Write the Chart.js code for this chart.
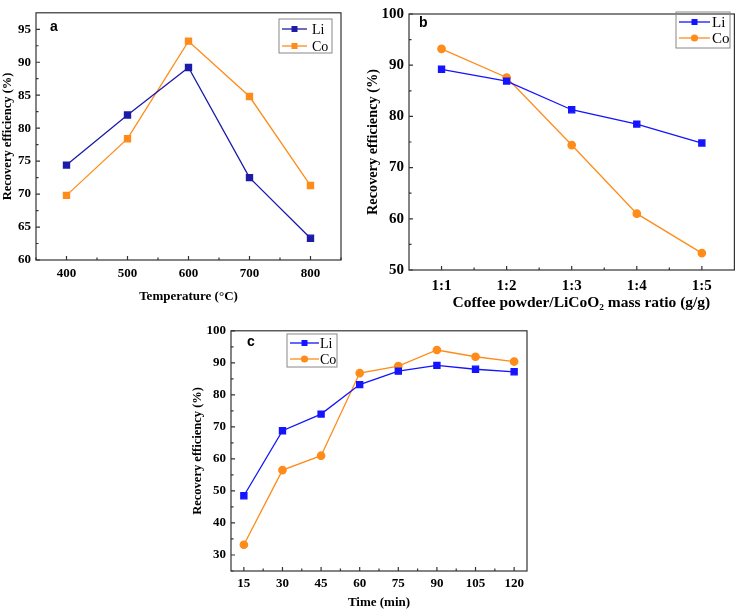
<!DOCTYPE html>
<html>
<head>
<meta charset="utf-8">
<script src="https://cdn.jsdelivr.net/npm/chart.js@4.4.1/dist/chart.umd.min.js"></script>
<style>
  body { margin: 0; background: #fff; }
  #wrap { position: relative; width: 740px; height: 611px; }
  .panel { position: absolute; }
</style>
</head>
<body>
<div id="wrap">
  <div class="panel" style="left:0;top:0;width:360px;height:311px"><canvas id="chartA"></canvas></div>
  <div class="panel" style="left:360px;top:0;width:380px;height:314px"><canvas id="chartB"></canvas></div>
  <div class="panel" style="left:180px;top:318px;width:360px;height:293px"><canvas id="chartC"></canvas></div>
</div>
<script>
// (a) temperature
var tempLabels = [400, 500, 600, 700, 800];
var tempLi = [74.4, 82.0, 89.2, 72.5, 63.3];
var tempCo = [69.8, 78.4, 93.2, 84.8, 71.3];
var tempTicksY = [60, 65, 70, 75, 80, 85, 90, 95];

// (b) coffee powder / LiCoO2 ratio
var ratioLabels = ['1:1', '1:2', '1:3', '1:4', '1:5'];
var ratioLi = [89.2, 86.9, 81.3, 78.5, 74.8];
var ratioCo = [93.2, 87.6, 74.4, 61.0, 53.3];
var ratioTicksY = [50, 60, 70, 80, 90, 100];

// (c) time
var timeLabels = [15, 30, 45, 60, 75, 90, 105, 120];
var timeLi = [48.5, 68.8, 74.0, 83.2, 87.4, 89.2, 88.0, 87.2];
var timeCo = [33.2, 56.5, 61.0, 86.8, 89.0, 94.0, 91.9, 90.4];
var timeTicksY = [30, 40, 50, 60, 70, 80, 90, 100];

var SERIF = '"Liberation Serif", "Times New Roman", serif';
var ORANGE = '#ff8c1a';

function pts(xs, ys) {
	return ys.map(function(v, i){ return {x: xs[i], y: v}; });
}

function mids(t) {
	var out = [];
	for (var i = 0; i < t.length - 1; i++) out.push((t[i] + t[i+1]) / 2);
	return out;
}

// box, inward ticks, legend and panel letter
var frame = {
	id: 'frame',
	afterDraw: function(chart, args, o) {
		var ctx = chart.ctx, a = chart.chartArea;
		var x = chart.scales.x, y = chart.scales.y;
		ctx.save();
		ctx.strokeStyle = '#333';
		ctx.lineWidth = 1.2;
		ctx.strokeRect(a.left, a.top, a.right - a.left, a.bottom - a.top);
		ctx.beginPath();
		x.ticks.forEach(function(t){
			var p = x.getPixelForValue(t.value);
			ctx.moveTo(p, a.bottom); ctx.lineTo(p, a.bottom - 4);
		});
		o.xMinor.forEach(function(v){
			var p = x.getPixelForValue(v);
			ctx.moveTo(p, a.bottom); ctx.lineTo(p, a.bottom - 2.5);
		});
		y.ticks.forEach(function(t){
			var p = y.getPixelForValue(t.value);
			ctx.moveTo(a.left, p); ctx.lineTo(a.left + 4, p);
		});
		o.yMinor.forEach(function(v){
			var p = y.getPixelForValue(v);
			if (p > a.top) { ctx.moveTo(a.left, p); ctx.lineTo(a.left + 2.5, p); }
		});
		ctx.stroke();

		// panel letter
		ctx.fillStyle = '#000';
		ctx.font = 'bold 14px "Liberation Sans", Arial, sans-serif';
		ctx.textBaseline = 'middle';
		ctx.textAlign = 'left';
		ctx.fillText(o.letter, o.letterX, o.letterY);

		// legend
		var L = o.legend;
		ctx.strokeStyle = '#888';
		ctx.lineWidth = 1;
		ctx.strokeRect(L.x, L.y, L.w, L.h);
		ctx.font = L.size + 'px ' + SERIF;
		chart.data.datasets.forEach(function(ds, i){
			var ry = L.y + L.row0 + i * L.gap;
			ctx.strokeStyle = ds.borderColor;
			ctx.lineWidth = 1.3;
			ctx.beginPath();
			ctx.moveTo(L.x + 3, ry); ctx.lineTo(L.x + 3 + L.line, ry);
			ctx.stroke();
			ctx.fillStyle = ds.borderColor;
			var cx = L.x + 3 + L.line / 2;
			if (ds.pointStyle === 'circle') {
				ctx.beginPath(); ctx.arc(cx, ry, 3.6, 0, Math.PI * 2); ctx.fill();
			} else {
				ctx.fillRect(cx - 3, ry - 3, 6, 6);
			}
			ctx.fillStyle = '#000';
			ctx.fillText(ds.label, L.x + L.tx, ry + 1);
		});
		ctx.restore();
	}
};

function makeChart(id, p) {
	var ds = [
		{ label: 'Li', data: pts(p.xs, p.li), borderColor: p.liColor, backgroundColor: p.liColor,
		  pointStyle: 'rect', pointRadius: 4.3, borderWidth: 1.3, tension: 0 },
		{ label: 'Co', data: pts(p.xs, p.co), borderColor: ORANGE, backgroundColor: ORANGE,
		  pointStyle: p.coStyle, pointRadius: p.coStyle === 'circle' ? 3.7 : 4.3, borderWidth: 1.3, tension: 0 }
	];
	return new Chart(document.getElementById(id), {
		type: 'line',
		data: { datasets: ds },
		plugins: [frame],
		options: {
			responsive: true,
			maintainAspectRatio: false,
			animation: false,
			layout: { padding: p.pad },
			plugins: {
				legend: { display: false },
				tooltip: { enabled: false },
				frame: p.frame
			},
			scales: {
				x: {
					type: 'linear', min: p.xMin, max: p.xMax,
					afterBuildTicks: function(s){ s.ticks = p.xTicks.map(function(v){ return {value: v}; }); },
					afterFit: function(s){ s.height = p.xH; },
					grid: { display: false, drawTicks: false },
					border: { display: false },
					ticks: { color: '#000', padding: p.xPad, maxRotation: 0, autoSkip: false,
						font: { family: SERIF, weight: 'bold', size: p.tickSize },
						callback: p.xFmt || function(v){ return v; } },
					title: { display: true, text: p.xTitle, color: '#000', padding: p.xTitlePad,
						font: { family: SERIF, weight: 'bold', size: p.titleSize } }
				},
				y: {
					min: p.yMin, max: p.yMax,
					afterBuildTicks: function(s){ s.ticks = p.yTicks.map(function(v){ return {value: v}; }); },
					afterFit: function(s){ s.width = p.yW; },
					grid: { display: false, drawTicks: false },
					border: { display: false },
					ticks: { color: '#000', padding: 5,
						font: { family: SERIF, weight: 'bold', size: p.tickSize } },
					title: { display: true, text: 'Recovery efficiency (%)', color: '#000', padding: p.yTitlePad,
						font: { family: SERIF, weight: 'bold', size: p.ySize } }
				}
			}
		}
	});
}

makeChart('chartA', {
	xs: tempLabels, li: tempLi, co: tempCo, liColor: '#1c1ca8', coStyle: 'rect',
	xMin: 350, xMax: 850, xTicks: tempLabels, yMin: 60, yMax: 97.5, yTicks: tempTicksY,
	xTitle: 'Temperature (°C)', pad: { left: 0, right: 19, top: 10, bottom: 0 },
	xH: 51, yW: 36, xPad: 6, xTitlePad: { top: 0, bottom: 7 }, yTitlePad: { top: 0, bottom: 0 },
	tickSize: 13, titleSize: 13, ySize: 12.5,
	frame: { xMinor: mids(tempLabels).concat([350, 850]), yMinor: mids(tempTicksY).concat([97.5]),
		letter: 'a', letterX: 50, letterY: 27,
		legend: { x: 279, y: 19, w: 53, h: 34, row0: 10, gap: 17, line: 25, tx: 33, size: 14 } }
});

makeChart('chartB', {
	xs: [1, 2, 3, 4, 5], li: ratioLi, co: ratioCo, liColor: '#1414ff', coStyle: 'circle',
	xMin: 0.5, xMax: 5.5, xTicks: [1, 2, 3, 4, 5], yMin: 50, yMax: 100, yTicks: ratioTicksY,
	xFmt: function(v){ return ratioLabels[v - 1]; },
	xTitle: '\u00a0\u00a0\u00a0\u00a0\u00a0Coffee powder/LiCoO\u2082 mass ratio (g/g)', pad: { left: 0, right: 4, top: 7, bottom: 0 },
	xH: 44, yW: 49, xPad: 7, xTitlePad: { top: 0, bottom: 1.7 }, yTitlePad: { top: 5, bottom: 0 },
	tickSize: 15, titleSize: 15.5, ySize: 14.3,
	frame: { xMinor: [1.5, 2.5, 3.5, 4.5], yMinor: mids(ratioTicksY),
		letter: 'b', letterX: 59, letterY: 23,
		legend: { x: 316, y: 12, w: 54, h: 36, row0: 10, gap: 16, line: 31, tx: 36, size: 15 } }
});

makeChart('chartC', {
	xs: timeLabels, li: timeLi, co: timeCo, liColor: '#1414ff', coStyle: 'circle',
	xMin: 10, xMax: 125, xTicks: timeLabels, yMin: 25, yMax: 100, yTicks: timeTicksY,
	xTitle: 'Time (min)', pad: { left: 0, right: 13, top: 10, bottom: 0 },
	xH: 40, yW: 51, xPad: 5, xTitlePad: { top: 0, bottom: 1 }, yTitlePad: { top: 10, bottom: 0 },
	tickSize: 13, titleSize: 13, ySize: 12.5,
	frame: { xMinor: mids(timeLabels), yMinor: mids(timeTicksY).concat([25]),
		letter: 'c', letterX: 67, letterY: 24,
		legend: { x: 107, y: 16, w: 50, h: 33, row0: 9, gap: 16, line: 29, tx: 33, size: 14 } }
});
</script>
</body>
</html>
